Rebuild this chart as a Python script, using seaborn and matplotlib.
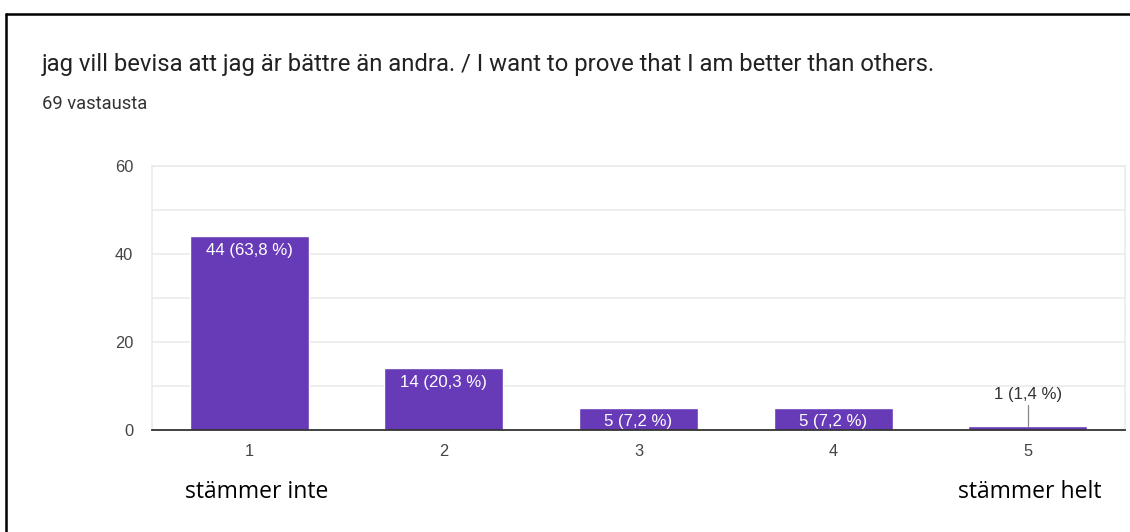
import matplotlib
matplotlib.use("Agg")
import matplotlib.pyplot as plt
import seaborn as sns
import pandas as pd
from matplotlib.lines import Line2D

categories = ["1", "2", "3", "4", "5"]
counts = [44, 14, 5, 5, 1]
labels = ["44 (63,8 %)", "14 (20,3 %)", "5 (7,2 %)", "5 (7,2 %)", "1 (1,4 %)"]
y_ticks = [0, 20, 40, 60]
title = "jag vill bevisa att jag är bättre än andra. / I want to prove that I am better than others."
subtitle = "69 vastausta"
left_note = "stämmer inte"
right_note = "stämmer helt"

sns.set_theme(style="white")
plt.rcParams['font.family'] = ['Roboto', 'DejaVu Sans']

ARIAL = ['Liberation Sans', 'DejaVu Sans']

fig = plt.figure(figsize=(11.3, 5.32), dpi=100)
W, H = 1130, 532
ax = fig.add_axes([152 / W, (H - 430) / H, 973 / W, 264 / H])

df = pd.DataFrame({"cat": categories, "n": counts})
sns.barplot(data=df, x="cat", y="n", color="#673ab7", saturation=1, width=0.612, ax=ax)

ax.set_xlim(-0.5, 4.5)
ax.set_ylim(0, 60)
ax.set_yticks(y_ticks)
ax.set_yticks([10, 30, 50], minor=True)
ax.grid(axis="y", which="both", color="#ebebeb", lw=1.2)
ax.set_axisbelow(True)
for s in ["top", "left", "right"]:
    ax.spines[s].set_color("#ebebeb")
    ax.spines[s].set_linewidth(1.2)
ax.spines["bottom"].set_color("#333333")
ax.spines["bottom"].set_linewidth(1.3)
ax.set_xlabel("")
ax.set_ylabel("")
ax.tick_params(axis="both", which="both", length=0, labelsize=11.8, labelcolor="#444444")
ax.tick_params(axis="y", pad=13.5)
ax.tick_params(axis="x", pad=10)
for t in ax.get_xticklabels() + ax.get_yticklabels():
    t.set_family(ARIAL)

for i, (v, lab) in enumerate(zip(counts, labels)):
    if v >= 3:
        ax.text(i, v - 3.1, lab, ha="center", va="center", color="white", fontsize=12.1, family=ARIAL)
    else:
        ax.plot([i, i], [v, v + 4.7], color="#888888", lw=0.9)
        ax.text(i, v + 5.3, lab, ha="center", va="bottom", color="#333333", fontsize=12.1, family=ARIAL)

fig.text(42 / W, 1 - 64 / H, title, ha="left", va="center", fontsize=17.2, color="#222222")
fig.text(42 / W, 1 - 104 / H, subtitle, ha="left", va="center", fontsize=13.2, color="#333333")
fig.text(185 / W, 1 - 492 / H, left_note, ha="left", va="center", fontsize=16.5, color="black",
         family=['Open Sans', 'DejaVu Sans'])
fig.text(1101 / W, 1 - 492 / H, right_note, ha="right", va="center", fontsize=16.5, color="black",
         family=['Open Sans', 'DejaVu Sans'])

# frame lines
fig.add_artist(Line2D([6 / W, 1.0], [1 - 13.5 / H, 1 - 13.5 / H], color="black", lw=1.8, transform=fig.transFigure))
fig.add_artist(Line2D([6 / W, 6 / W], [1 - 13.5 / H, 0], color="black", lw=1.8, transform=fig.transFigure))

fig.savefig("out.png", dpi=100, facecolor="white")
